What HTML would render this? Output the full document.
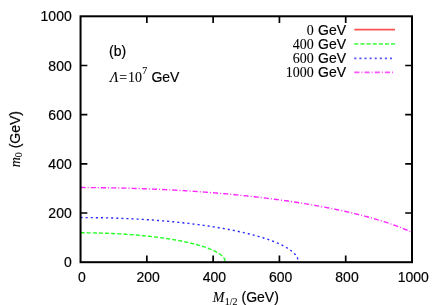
<!DOCTYPE html>
<html><head><meta charset="utf-8"><style>
html,body{margin:0;padding:0;background:#fff;}
svg{display:block;will-change:transform}
text{font-family:"Liberation Sans",sans-serif;font-size:14px;fill:#000;stroke:#000;stroke-width:0.18px}
.s{font-family:"Liberation Serif",serif;stroke-width:0.08px}
.i{font-family:"Liberation Serif",serif;font-style:italic;stroke-width:0.08px}
</style></head><body>
<svg width="436" height="305" viewBox="0 0 436 305">
<rect width="436" height="305" fill="#fff"/>
<g fill="none" stroke-width="1.4" stroke-opacity="0.85">
<path d="M80.55,232.79 L81.27,232.79 L82.00,232.79 L82.72,232.79 L83.45,232.80 L84.17,232.80 L84.90,232.80 L85.62,232.81 L86.34,232.81 L87.07,232.82 L87.79,232.83 L88.52,232.83 L89.24,232.84 L89.97,232.85 L90.69,232.86 L91.41,232.87 L92.14,232.88 L92.86,232.90 L93.59,232.91 L94.31,232.92 L95.03,232.94 L95.76,232.95 L96.48,232.97 L97.21,232.99 L97.93,233.00 L98.66,233.02 L99.38,233.04 L100.10,233.06 L100.83,233.08 L101.55,233.10 L102.28,233.12 L103.00,233.15 L103.73,233.17 L104.45,233.19 L105.17,233.22 L105.90,233.24 L106.62,233.27 L107.35,233.30 L108.07,233.33 L108.80,233.35 L109.52,233.38 L110.24,233.41 L110.97,233.45 L111.69,233.48 L112.42,233.51 L113.14,233.54 L113.86,233.58 L114.59,233.61 L115.31,233.65 L116.04,233.69 L116.76,233.72 L117.49,233.76 L118.21,233.80 L118.93,233.84 L119.66,233.88 L120.38,233.92 L121.11,233.97 L121.83,234.01 L122.56,234.05 L123.28,234.10 L124.00,234.14 L124.73,234.19 L125.45,234.24 L126.18,234.29 L126.90,234.34 L127.63,234.39 L128.35,234.44 L129.07,234.49 L129.80,234.54 L130.52,234.60 L131.25,234.65 L131.97,234.71 L132.69,234.76 L133.42,234.82 L134.14,234.88 L134.87,234.94 L135.59,235.00 L136.32,235.06 L137.04,235.12 L137.76,235.18 L138.49,235.25 L139.21,235.31 L139.94,235.38 L140.66,235.44 L141.39,235.51 L142.11,235.58 L142.83,235.65 L143.56,235.72 L144.28,235.79 L145.01,235.86 L145.73,235.94 L146.46,236.01 L147.18,236.09 L147.90,236.16 L148.63,236.24 L149.35,236.32 L150.08,236.40 L150.80,236.48 L151.52,236.56 L152.25,236.65 L152.97,236.73 L153.70,236.82 L154.42,236.90 L155.15,236.99 L155.87,237.08 L156.59,237.17 L157.32,237.26 L158.04,237.35 L158.77,237.45 L159.49,237.54 L160.22,237.64 L160.94,237.74 L161.66,237.83 L162.39,237.93 L163.11,238.04 L163.84,238.14 L164.56,238.24 L165.29,238.35 L166.01,238.45 L166.73,238.56 L167.46,238.67 L168.18,238.78 L168.91,238.90 L169.63,239.01 L170.35,239.13 L171.08,239.24 L171.80,239.36 L172.53,239.48 L173.25,239.60 L173.98,239.73 L174.70,239.85 L175.42,239.98 L176.15,240.11 L176.87,240.24 L177.60,240.37 L178.32,240.50 L179.05,240.64 L179.77,240.77 L180.49,240.91 L181.22,241.05 L181.94,241.20 L182.67,241.34 L183.39,241.49 L184.12,241.64 L184.84,241.79 L185.56,241.94 L186.29,242.10 L187.01,242.26 L187.74,242.42 L188.46,242.58 L189.18,242.75 L189.91,242.92 L190.63,243.09 L191.36,243.26 L192.08,243.44 L192.81,243.61 L193.53,243.80 L194.25,243.98 L194.98,244.17 L195.70,244.36 L196.43,244.55 L197.15,244.75 L197.88,244.95 L198.60,245.16 L199.32,245.37 L200.05,245.58 L200.77,245.80 L201.50,246.02 L202.22,246.24 L202.95,246.47 L203.67,246.71 L204.39,246.95 L205.12,247.19 L205.84,247.44 L206.57,247.70 L207.29,247.96 L208.02,248.23 L208.74,248.51 L209.46,248.79 L210.19,249.08 L210.91,249.38 L211.64,249.69 L212.36,250.01 L213.08,250.33 L213.81,250.67 L214.53,251.03 L215.26,251.39 L215.98,251.77 L216.71,252.17 L217.43,252.58 L218.15,253.02 L218.88,253.48 L219.60,253.97 L220.33,254.49 L221.05,255.05 L221.78,255.67 L222.50,256.35 L223.22,257.13 L223.95,258.05 L224.67,259.26 L225.40,262.20" stroke="#00ff00" stroke-dasharray="4.1 2.03"/>
<path d="M80.55,217.57 L81.64,217.57 L82.73,217.57 L83.82,217.57 L84.91,217.58 L86.00,217.58 L87.09,217.59 L88.18,217.60 L89.27,217.60 L90.36,217.61 L91.45,217.62 L92.54,217.64 L93.63,217.65 L94.72,217.66 L95.81,217.68 L96.90,217.69 L97.99,217.71 L99.08,217.73 L100.17,217.75 L101.26,217.77 L102.35,217.79 L103.44,217.82 L104.53,217.84 L105.62,217.87 L106.71,217.89 L107.79,217.92 L108.88,217.95 L109.97,217.98 L111.06,218.01 L112.15,218.04 L113.24,218.07 L114.33,218.11 L115.42,218.14 L116.51,218.18 L117.60,218.22 L118.69,218.26 L119.78,218.30 L120.87,218.34 L121.96,218.38 L123.05,218.43 L124.14,218.47 L125.23,218.52 L126.32,218.56 L127.41,218.61 L128.50,218.66 L129.59,218.71 L130.68,218.77 L131.77,218.82 L132.86,218.87 L133.95,218.93 L135.04,218.99 L136.13,219.04 L137.22,219.10 L138.31,219.16 L139.40,219.23 L140.49,219.29 L141.58,219.35 L142.67,219.42 L143.76,219.49 L144.85,219.56 L145.94,219.62 L147.03,219.70 L148.12,219.77 L149.21,219.84 L150.30,219.92 L151.39,219.99 L152.48,220.07 L153.57,220.15 L154.66,220.23 L155.75,220.31 L156.84,220.39 L157.93,220.48 L159.02,220.56 L160.10,220.65 L161.19,220.74 L162.28,220.83 L163.37,220.92 L164.46,221.01 L165.55,221.10 L166.64,221.20 L167.73,221.30 L168.82,221.39 L169.91,221.49 L171.00,221.59 L172.09,221.70 L173.18,221.80 L174.27,221.91 L175.36,222.01 L176.45,222.12 L177.54,222.23 L178.63,222.34 L179.72,222.46 L180.81,222.57 L181.90,222.69 L182.99,222.81 L184.08,222.93 L185.17,223.05 L186.26,223.17 L187.35,223.29 L188.44,223.42 L189.53,223.55 L190.62,223.68 L191.71,223.81 L192.80,223.94 L193.89,224.08 L194.98,224.21 L196.07,224.35 L197.16,224.49 L198.25,224.64 L199.34,224.78 L200.43,224.93 L201.52,225.07 L202.61,225.22 L203.70,225.38 L204.79,225.53 L205.88,225.69 L206.97,225.84 L208.06,226.00 L209.15,226.16 L210.24,226.33 L211.33,226.50 L212.42,226.66 L213.50,226.83 L214.59,227.01 L215.68,227.18 L216.77,227.36 L217.86,227.54 L218.95,227.72 L220.04,227.91 L221.13,228.09 L222.22,228.28 L223.31,228.48 L224.40,228.67 L225.49,228.87 L226.58,229.07 L227.67,229.27 L228.76,229.48 L229.85,229.68 L230.94,229.90 L232.03,230.11 L233.12,230.33 L234.21,230.55 L235.30,230.77 L236.39,231.00 L237.48,231.23 L238.57,231.46 L239.66,231.70 L240.75,231.94 L241.84,232.18 L242.93,232.43 L244.02,232.68 L245.11,232.93 L246.20,233.19 L247.29,233.46 L248.38,233.72 L249.47,234.00 L250.56,234.27 L251.65,234.55 L252.74,234.84 L253.83,235.13 L254.92,235.42 L256.01,235.72 L257.10,236.03 L258.19,236.34 L259.28,236.65 L260.37,236.98 L261.46,237.31 L262.55,237.64 L263.64,237.98 L264.73,238.33 L265.81,238.69 L266.90,239.05 L267.99,239.43 L269.08,239.81 L270.17,240.19 L271.26,240.59 L272.35,241.00 L273.44,241.42 L274.53,241.85 L275.62,242.29 L276.71,242.75 L277.80,243.21 L278.89,243.70 L279.98,244.19 L281.07,244.71 L282.16,245.24 L283.25,245.80 L284.34,246.37 L285.43,246.97 L286.52,247.60 L287.61,248.26 L288.70,248.96 L289.79,249.70 L290.88,250.50 L291.97,251.35 L293.06,252.28 L294.15,253.32 L295.24,254.50 L296.33,255.90 L297.42,257.74 L298.51,262.20" stroke="#0000ff" stroke-dasharray="2.04 3.06"/>
<path d="M80.55,187.57 L82.21,187.57 L83.86,187.57 L85.52,187.58 L87.18,187.58 L88.84,187.59 L90.49,187.60 L92.15,187.61 L93.81,187.62 L95.47,187.63 L97.12,187.65 L98.78,187.66 L100.44,187.68 L102.09,187.70 L103.75,187.72 L105.41,187.75 L107.07,187.77 L108.72,187.80 L110.38,187.82 L112.04,187.85 L113.69,187.88 L115.35,187.92 L117.01,187.95 L118.67,187.99 L120.32,188.02 L121.98,188.06 L123.64,188.10 L125.30,188.14 L126.95,188.19 L128.61,188.23 L130.27,188.28 L131.92,188.33 L133.58,188.38 L135.24,188.43 L136.90,188.48 L138.55,188.54 L140.21,188.59 L141.87,188.65 L143.53,188.71 L145.18,188.77 L146.84,188.84 L148.50,188.90 L150.15,188.97 L151.81,189.04 L153.47,189.10 L155.13,189.18 L156.78,189.25 L158.44,189.32 L160.10,189.40 L161.76,189.48 L163.41,189.56 L165.07,189.64 L166.73,189.72 L168.38,189.81 L170.04,189.89 L171.70,189.98 L173.36,190.07 L175.01,190.16 L176.67,190.26 L178.33,190.35 L179.98,190.45 L181.64,190.55 L183.30,190.65 L184.96,190.75 L186.61,190.86 L188.27,190.96 L189.93,191.07 L191.59,191.18 L193.24,191.29 L194.90,191.40 L196.56,191.52 L198.21,191.64 L199.87,191.76 L201.53,191.88 L203.19,192.00 L204.84,192.12 L206.50,192.25 L208.16,192.38 L209.82,192.51 L211.47,192.64 L213.13,192.77 L214.79,192.91 L216.44,193.05 L218.10,193.19 L219.76,193.33 L221.42,193.47 L223.07,193.62 L224.73,193.77 L226.39,193.92 L228.05,194.07 L229.70,194.22 L231.36,194.38 L233.02,194.54 L234.67,194.70 L236.33,194.86 L237.99,195.03 L239.65,195.19 L241.30,195.36 L242.96,195.53 L244.62,195.71 L246.27,195.88 L247.93,196.06 L249.59,196.24 L251.25,196.42 L252.90,196.61 L254.56,196.79 L256.22,196.98 L257.88,197.17 L259.53,197.37 L261.19,197.56 L262.85,197.76 L264.50,197.96 L266.16,198.17 L267.82,198.37 L269.48,198.58 L271.13,198.79 L272.79,199.01 L274.45,199.22 L276.11,199.44 L277.76,199.66 L279.42,199.89 L281.08,200.12 L282.73,200.35 L284.39,200.58 L286.05,200.81 L287.71,201.05 L289.36,201.29 L291.02,201.54 L292.68,201.78 L294.34,202.03 L295.99,202.28 L297.65,202.54 L299.31,202.80 L300.96,203.06 L302.62,203.33 L304.28,203.59 L305.94,203.87 L307.59,204.14 L309.25,204.42 L310.91,204.70 L312.56,204.99 L314.22,205.27 L315.88,205.57 L317.54,205.86 L319.19,206.16 L320.85,206.46 L322.51,206.77 L324.17,207.08 L325.82,207.40 L327.48,207.71 L329.14,208.04 L330.79,208.36 L332.45,208.69 L334.11,209.03 L335.77,209.37 L337.42,209.71 L339.08,210.06 L340.74,210.41 L342.40,210.77 L344.05,211.13 L345.71,211.50 L347.37,211.87 L349.02,212.25 L350.68,212.63 L352.34,213.02 L354.00,213.41 L355.65,213.81 L357.31,214.22 L358.97,214.63 L360.63,215.04 L362.28,215.47 L363.94,215.90 L365.60,216.33 L367.25,216.78 L368.91,217.22 L370.57,217.68 L372.23,218.15 L373.88,218.62 L375.54,219.10 L377.20,219.59 L378.85,220.08 L380.51,220.59 L382.17,221.10 L383.83,221.62 L385.48,222.16 L387.14,222.70 L388.80,223.26 L390.46,223.82 L392.11,224.40 L393.77,224.99 L395.43,225.59 L397.08,226.20 L398.74,226.83 L400.40,227.47 L402.06,228.13 L403.71,228.81 L405.37,229.50 L407.03,230.21 L408.69,230.95 L410.34,231.70 L412.00,232.48" stroke="#ff00ff" stroke-dasharray="5.1 2.04 1.02 2.04"/>
</g>
<g fill="none" stroke-width="1.8" stroke-opacity="0.68">
<path d="M354.3,29.7 H395" stroke="#ff0000"/>
<path d="M354.3,43.9 H395" stroke="#00ff00" stroke-dasharray="4.1 2.03"/>
<path d="M354.3,58.3 H395" stroke="#0000ff" stroke-dasharray="2.04 3.06"/>
<path d="M354.3,72.4 H395" stroke="#ff00ff" stroke-dasharray="5.1 2.04 1.02 2.04"/>
</g>
<g fill="none" stroke="#000" stroke-width="1.7">
<path d="M146.84,262.20 v-6.8 M146.84,16.30 v6.8 M80.55,213.02 h6.8 M412.00,213.02 h-6.8"/>
<path d="M213.13,262.20 v-6.8 M213.13,16.30 v6.8 M80.55,163.84 h6.8 M412.00,163.84 h-6.8"/>
<path d="M279.42,262.20 v-6.8 M279.42,16.30 v6.8 M80.55,114.66 h6.8 M412.00,114.66 h-6.8"/>
<path d="M345.71,262.20 v-6.8 M345.71,16.30 v6.8 M80.55,65.48 h6.8 M412.00,65.48 h-6.8"/>
</g>
<rect x="80.55" y="16.3" width="331.45" height="245.90" fill="none" stroke="#000" stroke-width="2.0"/>
<text transform="translate(81.85,281.80) scale(1,1.040)" text-anchor="middle">0</text>
<text transform="translate(148.14,281.80) scale(1,1.040)" text-anchor="middle">200</text>
<text transform="translate(214.43,281.80) scale(1,1.040)" text-anchor="middle">400</text>
<text transform="translate(280.72,281.80) scale(1,1.040)" text-anchor="middle">600</text>
<text transform="translate(347.01,281.80) scale(1,1.040)" text-anchor="middle">800</text>
<text transform="translate(413.30,281.80) scale(1,1.040)" text-anchor="middle">1000</text>
<text transform="translate(71.70,267.30) scale(1,1.040)" text-anchor="end">0</text>
<text transform="translate(71.70,218.12) scale(1,1.040)" text-anchor="end">200</text>
<text transform="translate(71.70,168.94) scale(1,1.040)" text-anchor="end">400</text>
<text transform="translate(71.70,119.76) scale(1,1.040)" text-anchor="end">600</text>
<text transform="translate(71.70,70.58) scale(1,1.040)" text-anchor="end">800</text>
<text transform="translate(71.70,21.40) scale(1,1.040)" text-anchor="end">1000</text>
<text transform="translate(346.00,34.50) scale(1,1.040)" text-anchor="end"><tspan class="s">0</tspan><tspan dx="0.4"> GeV</tspan></text>
<text transform="translate(346.00,48.50) scale(1,1.040)" text-anchor="end"><tspan class="s">400</tspan><tspan dx="0.4"> GeV</tspan></text>
<text transform="translate(346.00,63.10) scale(1,1.040)" text-anchor="end"><tspan class="s">600</tspan><tspan dx="0.4"> GeV</tspan></text>
<text transform="translate(346.00,76.80) scale(1,1.040)" text-anchor="end"><tspan class="s">1000</tspan><tspan dx="0.4"> GeV</tspan></text>

<text transform="translate(109.00,56.40) scale(1,1.040)" text-anchor="start">(b)</text>

<text transform="translate(110.00,81.50) scale(1,1.040)" text-anchor="start"><tspan class="i">Λ</tspan><tspan class="s" dx="0.7">=</tspan><tspan class="s" dx="1">10</tspan><tspan class="s" font-size="10" dy="-6.8" dx="0.2">7</tspan><tspan dy="6.8" dx="0.3"> GeV</tspan></text>

<text transform="translate(212.70,302.10) scale(1,1.040)" text-anchor="start"><tspan class="i">M</tspan><tspan class="s" font-size="10" dy="2.6" dx="0.5">1/2</tspan><tspan dy="-2.6"> (GeV)</tspan></text>

<text transform="translate(20.20,167.30) rotate(-90) scale(1,1.040)" text-anchor="start"><tspan class="i">m</tspan><tspan class="s" font-size="10" dy="2">0</tspan><tspan dy="-2"> (GeV)</tspan></text>

</svg>
</body></html>
